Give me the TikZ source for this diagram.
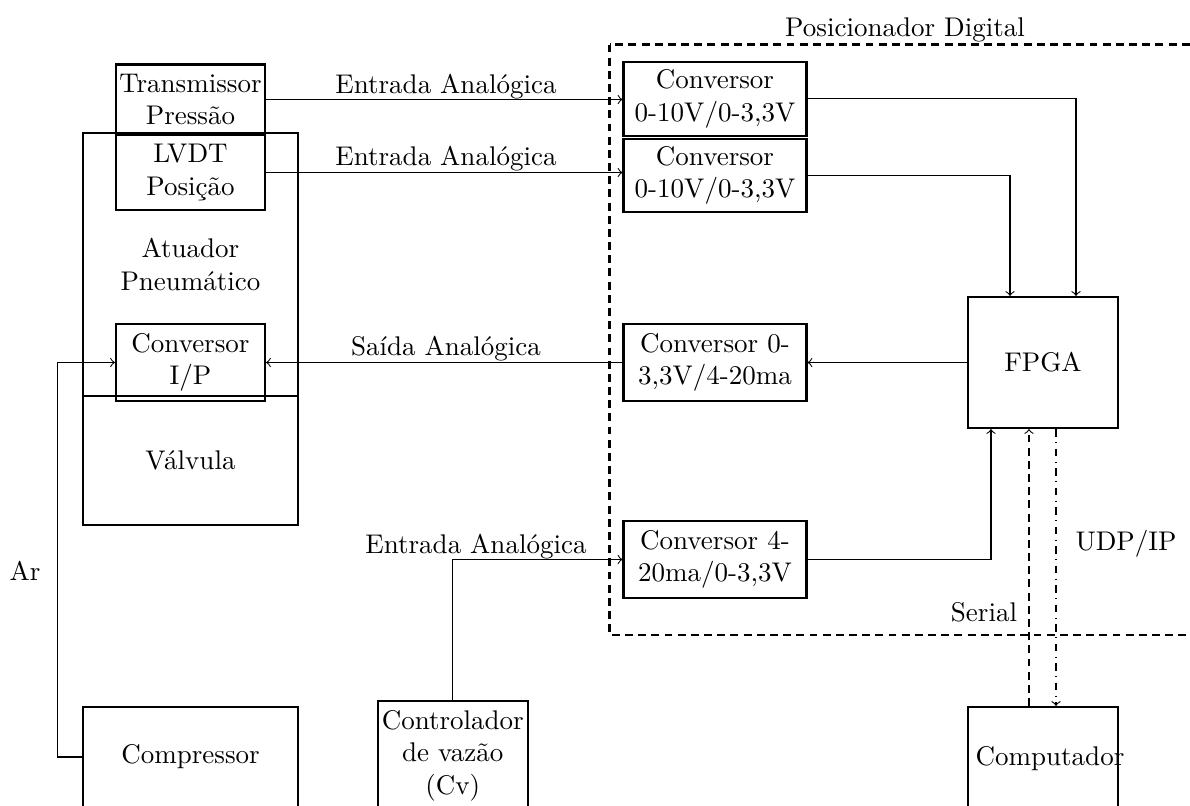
\documentclass[tikz,border=0pt]{standalone}
\usetikzlibrary{calc}
\newdimen\pxu \pxu=0.3795pt
\begin{document}
\begin{tikzpicture}[x=0.3795pt,y=-0.3795pt,
  every node/.style={font=\fontsize{10.25pt}{12.3pt}\selectfont},
  blk/.style={draw,thick,inner sep=0pt,align=center},
  sz/.style 2 args={minimum width=#1*0.3795pt,minimum height=#2*0.3795pt},
  conn/.style={thin,->},
  lbl/.style={inner sep=0pt,anchor=base}]
\useasboundingbox (0,0) rectangle (1190,805);
\clip (0,0) rectangle (1190,805);
% left block
\node[blk,sz={215}{263}] (atu) at (190.5,264.5) {Atuador\\Pneumático};
\node[blk,sz={215}{129}] (val) at (190.5,460.5) {Válvula};
\node[blk,sz={149}{70}] (tra) at (190.5,99.5) {Transmissor\\Pressão};
\node[blk,sz={149}{75}] (lvdt) at (190.5,172.5) {LVDT\\Posição};
\node[blk,sz={149}{77}] (ip) at (190.5,362.5) {Conversor\\I/P};
\node[blk,sz={215}{100}] (comp) at (190.5,757) {Compressor};
\node[blk,sz={150.5}{109}] (ctrl) at (452.8,755.5) {Controlador\\de vazão\\(Cv)};
% positioner
\draw[thick,densely dashed] (609.5,44.5) rectangle (1205,635);
\node[blk,sz={183}{74}] (c1) at (715,98.7) {Conversor\\0-10V/0-3,3V};
\node[blk,sz={183}{73}] (c2) at (715,175.4) {Conversor\\0-10V/0-3,3V};
\node[blk,sz={183}{77}] (c3) at (715,362.5) {Conversor 0-\\3,3V/4-20ma};
\node[blk,sz={183}{77}] (c4) at (715,559.5) {Conversor 4-\\20ma/0-3,3V};
\node[blk,sz={150}{131}] (fpga) at (1043,362.5) {FPGA};
\node[blk,sz={150}{104}] (pc) at (1043,759) {\hspace*{14\pxu}\makebox[0pt]{Computador}};
% connectors
\draw[conn] (tra.east) -- (tra.east -| c1.west);
\draw[conn] (lvdt.east) -- (lvdt.east -| c2.west);
\draw[conn] (c1.east) -| ($(fpga.north)+(33,0)$);
\draw[conn] (c2.east) -| ($(fpga.north)+(-33,0)$);
\draw[conn] (fpga.west) -- (c3.east);
\draw[conn] (c3.west) -- (ip.east);
\draw[conn] (comp.west) -- ++(-24,0) |- (ip.west);
\draw[conn] (ctrl.north) |- (c4.west);
\draw[conn] (c4.east) -| ($(fpga.south)+(-52,0)$);
\draw[conn,densely dashed] ($(pc.north)+(-14,0)$) -- ($(fpga.south)+(-14,0)$);
\draw[conn,dashdotted] ($(fpga.south)+(13,0)$) -- ($(pc.north)+(13,0)$);
% labels
\node[lbl] (l1) at (446,93) {Entrada Analógica};
\node[lbl] (l2) at (446,165) {Entrada Analógica};
\node[lbl] (l3) at (446,355) {Saída Analógica};
\node[lbl] (l4) at (476,553) {Entrada Analógica};
\node[lbl] (ar) at (25,580) {Ar};
\node[lbl] (ser) at (984,621) {Serial};
\node[lbl] (udp) at (1126,550) {UDP/IP};
\node[lbl] (pos) at (905,36) {Posicionador Digital};
\end{tikzpicture}
\end{document}
